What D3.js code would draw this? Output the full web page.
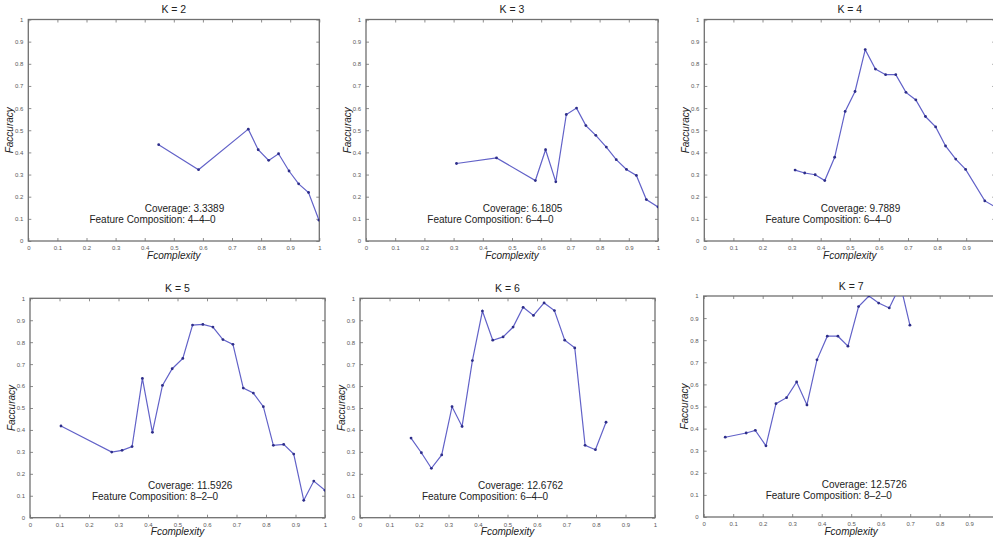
<!DOCTYPE html>
<html>
<head>
<meta charset="utf-8">
<script src="https://cdn.jsdelivr.net/npm/d3@7"></script>
<style>
  body { margin: 0; background: #fff; }
  svg { display: block; font-family: "Liberation Sans", Arial, sans-serif; }
</style>
</head>
<body>
<div id="chart"></div>
<script>
// ---- data ----
const titles = ["K = 2", "K = 3", "K = 4", "K = 5", "K = 6", "K = 7"];
const coverage = ["3.3389", "6.1805", "9.7889", "11.5926", "12.6762", "12.5726"];
const composition = ["4–4–0", "6–4–0", "6–4–0", "8–2–0", "6–4–0", "8–2–0"];
const tickValues = [0, 0.1, 0.2, 0.3, 0.4, 0.5, 0.6, 0.7, 0.8, 0.9, 1];

const k2Complexity = [0.448, 0.585, 0.756, 0.790, 0.826, 0.860, 0.896, 0.929, 0.963, 0.999];
const k2Accuracy   = [0.435, 0.322, 0.505, 0.412, 0.364, 0.394, 0.316, 0.258, 0.219, 0.094];

const k3Complexity = [0.310, 0.447, 0.580, 0.615, 0.650, 0.686, 0.721, 0.753, 0.787, 0.823, 0.857, 0.892, 0.926, 0.960, 1.0];
const k3Accuracy   = [0.350, 0.375, 0.273, 0.412, 0.267, 0.571, 0.600, 0.521, 0.477, 0.424, 0.367, 0.323, 0.296, 0.187, 0.154];

const k4Complexity = [0.312, 0.345, 0.381, 0.414, 0.448, 0.484, 0.518, 0.553, 0.588, 0.623, 0.658, 0.693, 0.727, 0.760, 0.795, 0.829, 0.864, 0.898, 0.964, 0.998];
const k4Accuracy   = [0.320, 0.307, 0.299, 0.273, 0.378, 0.585, 0.675, 0.864, 0.776, 0.751, 0.751, 0.671, 0.637, 0.562, 0.515, 0.429, 0.370, 0.323, 0.181, 0.155];

const k5Complexity = [0.105, 0.277, 0.312, 0.346, 0.381, 0.415, 0.449, 0.482, 0.518, 0.551, 0.586, 0.620, 0.654, 0.688, 0.723, 0.757, 0.791, 0.825, 0.860, 0.894, 0.928, 0.962, 1.0];
const k5Accuracy   = [0.418, 0.299, 0.307, 0.324, 0.635, 0.389, 0.603, 0.679, 0.726, 0.878, 0.881, 0.869, 0.812, 0.790, 0.591, 0.568, 0.506, 0.330, 0.334, 0.290, 0.079, 0.167, 0.125];

const k6Complexity = [0.173, 0.208, 0.242, 0.277, 0.312, 0.346, 0.381, 0.415, 0.450, 0.485, 0.519, 0.553, 0.588, 0.624, 0.659, 0.694, 0.728, 0.763, 0.798, 0.834];
const k6Accuracy   = [0.363, 0.296, 0.225, 0.286, 0.506, 0.416, 0.716, 0.942, 0.809, 0.824, 0.869, 0.959, 0.922, 0.979, 0.944, 0.809, 0.774, 0.330, 0.310, 0.435];

const k7Complexity = [0.073, 0.144, 0.175, 0.211, 0.245, 0.281, 0.315, 0.350, 0.384, 0.419, 0.455, 0.489, 0.525, 0.560, 0.593, 0.629, 0.667, 0.699];
const k7Accuracy   = [0.361, 0.380, 0.392, 0.322, 0.513, 0.540, 0.611, 0.507, 0.711, 0.818, 0.818, 0.773, 0.952, 1.0, 0.968, 0.946, 1.05, 0.868];

const complexitySeries = [k2Complexity, k3Complexity, k4Complexity, k5Complexity, k6Complexity, k7Complexity];
const accuracySeries   = [k2Accuracy, k3Accuracy, k4Accuracy, k5Accuracy, k6Accuracy, k7Accuracy];

// ---- layout: pixel box of each axes (left, right, top, bottom) ----
const boxes = [
  { l: 28.3,  r: 319.3, t: 19.5,  b: 241 },
  { l: 366,   r: 658,   t: 19.5,  b: 241 },
  { l: 704.3, r: 995.3, t: 19.5,  b: 241 },
  { l: 30,    r: 325,   t: 298.3, b: 517.7 },
  { l: 360,   r: 655,   t: 298.3, b: 517.7 },
  { l: 703.7, r: 998.7, t: 296,   b: 517 }
];

const W = 993, H = 540;
const frameColor = "#707070";
const lineColor = "#6262c8";
const markColor = "#2e2e8a";
const fmt = d => String(+d.toFixed(1));

const svg = d3.select("#chart").append("svg")
  .attr("width", W)
  .attr("height", H)
  .attr("viewBox", `0 0 ${W} ${H}`);

boxes.forEach((box, i) => {
  const x = d3.scaleLinear().domain([0, 1]).range([box.l, box.r]);
  const y = d3.scaleLinear().domain([0, 1]).range([box.b, box.t]);
  const g = svg.append("g");

  // clip the data to the axes box, like MATLAB
  g.append("clipPath").attr("id", "clip" + i)
    .append("rect")
    .attr("x", box.l).attr("y", box.t)
    .attr("width", box.r - box.l).attr("height", box.b - box.t);

  // inward ticks on all four sides
  const styleAxis = sel => {
    sel.select(".domain").remove();
    sel.selectAll(".tick line").attr("stroke", frameColor).attr("stroke-width", 0.8);
    sel.selectAll(".tick text").attr("fill", "#5a5a5a").style("font-size", "6px");
  };
  // tick labels that fall past the page edge are not shown in the picture
  const xShown = tickValues.filter(v => x(v) < W - 4);
  g.append("g").attr("transform", `translate(0,${box.b})`)
    .call(d3.axisBottom(x).tickValues(xShown).tickFormat(fmt).tickSizeInner(-3).tickSizeOuter(0).tickPadding(5))
    .call(styleAxis);
  g.append("g").attr("transform", `translate(0,${box.t})`)
    .call(d3.axisTop(x).tickValues(xShown).tickFormat("").tickSizeInner(-3).tickSizeOuter(0))
    .call(styleAxis);
  g.append("g").attr("transform", `translate(${box.l},0)`)
    .call(d3.axisLeft(y).tickValues(tickValues).tickFormat(fmt).tickSizeInner(-3).tickSizeOuter(0).tickPadding(5))
    .call(styleAxis);
  g.append("g").attr("transform", `translate(${box.r},0)`)
    .call(d3.axisRight(y).tickValues(tickValues).tickFormat("").tickSizeInner(-3).tickSizeOuter(0))
    .call(styleAxis);

  g.append("rect")
    .attr("x", box.l).attr("y", box.t)
    .attr("width", box.r - box.l).attr("height", box.b - box.t)
    .attr("fill", "none")
    .attr("stroke", frameColor)
    .attr("stroke-width", 1.3);

  const pts = complexitySeries[i].map((c, j) => [c, accuracySeries[i][j]]);
  const plot = g.append("g").attr("clip-path", `url(#clip${i})`);
  plot.append("path")
    .datum(pts)
    .attr("d", d3.line().x(d => x(d[0])).y(d => y(d[1])))
    .attr("fill", "none")
    .attr("stroke", lineColor)
    .attr("stroke-width", 1.2);
  plot.selectAll("circle")
    .data(pts)
    .join("circle")
    .attr("cx", d => x(d[0]))
    .attr("cy", d => y(d[1]))
    .attr("r", 1.4)
    .attr("fill", markColor);

  // annotations
  g.append("text")
    .attr("x", x(0.4)).attr("y", y(0.143))
    .attr("dominant-baseline", "middle")
    .style("font-size", "10px").attr("fill", "#222")
    .text("Coverage: " + coverage[i]);
  g.append("text")
    .attr("x", x(0.21)).attr("y", y(0.094))
    .attr("dominant-baseline", "middle")
    .style("font-size", "10px").attr("fill", "#222")
    .text("Feature Composition: " + composition[i]);

  // titles and axis labels
  const cx = (box.l + box.r) / 2;
  g.append("text")
    .attr("x", cx).attr("y", box.t - 9)
    .attr("text-anchor", "middle").attr("dominant-baseline", "middle")
    .style("font-size", "10.5px").attr("fill", "#222")
    .text(titles[i]);
  g.append("text")
    .attr("x", cx).attr("y", box.b + 15)
    .attr("text-anchor", "middle").attr("dominant-baseline", "middle")
    .style("font-size", "10px").style("font-style", "italic").attr("fill", "#222")
    .text("Fcomplexity");
  g.append("text")
    .attr("transform", `translate(${box.l - 18},${(box.t + box.b) / 2}) rotate(-90)`)
    .attr("text-anchor", "middle").attr("dominant-baseline", "middle")
    .style("font-size", "10px").style("font-style", "italic").attr("fill", "#222")
    .text("Faccuracy");
});
</script>
</body>
</html>
